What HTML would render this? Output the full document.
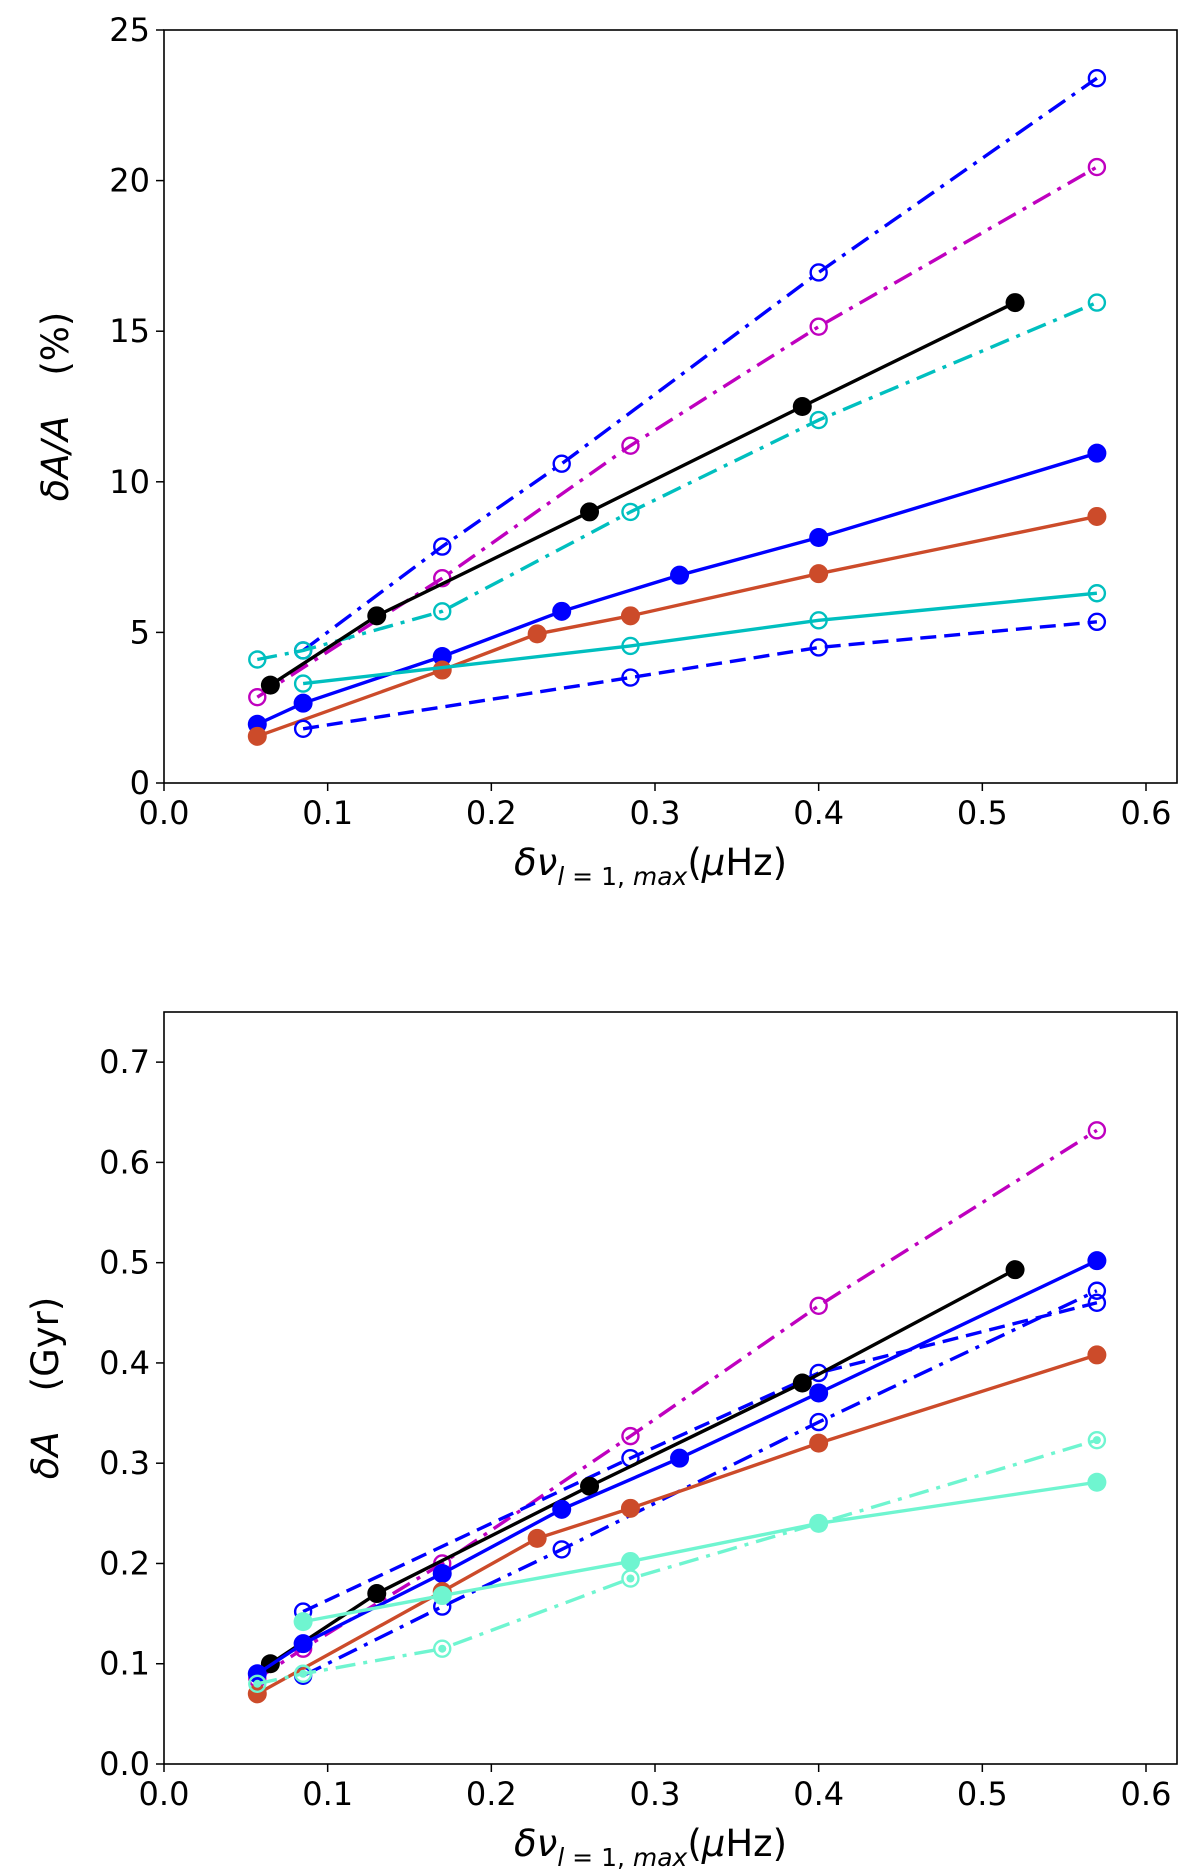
<!DOCTYPE html>
<html><head><meta charset="utf-8"><style>
html,body{margin:0;padding:0;background:#fff;}
svg text{font-family:"DejaVu Sans","Liberation Sans",sans-serif;}
</style></head><body>
<svg id="chart" width="1200" height="1871" viewBox="0 0 1200 1871" xmlns="http://www.w3.org/2000/svg"></svg>
<script>
// ---- top panel data ----
const topXTicks = [0.0,0.1,0.2,0.3,0.4,0.5,0.6];
const topYTicks = [0,5,10,15,20,25];
const t1x = [0.085,0.17,0.243,0.4,0.57];            const t1y = [4.4,7.85,10.6,16.95,23.4];
const t2x = [0.057,0.17,0.285,0.4,0.57];            const t2y = [2.85,6.8,11.2,15.15,20.45];
const t3x = [0.065,0.13,0.26,0.39,0.52];            const t3y = [3.25,5.55,9.0,12.5,15.95];
const t4x = [0.057,0.085,0.17,0.285,0.4,0.57];      const t4y = [4.1,4.4,5.7,9.0,12.05,15.95];
const t5x = [0.057,0.085,0.17,0.243,0.315,0.4,0.57];const t5y = [1.95,2.65,4.2,5.7,6.9,8.15,10.95];
const t6x = [0.057,0.17,0.228,0.285,0.4,0.57];      const t6y = [1.55,3.75,4.95,5.55,6.95,8.85];
const t7x = [0.085,0.285,0.4,0.57];                 const t7y = [3.3,4.55,5.4,6.3];
const t8x = [0.085,0.285,0.4,0.57];                 const t8y = [1.8,3.5,4.5,5.35];
// ---- bottom panel data ----
const botXTicks = [0.0,0.1,0.2,0.3,0.4,0.5,0.6];
const botYTicks = [0.0,0.1,0.2,0.3,0.4,0.5,0.6,0.7];
const b1x = [0.057,0.085,0.17,0.285,0.4,0.57];      const b1y = [0.085,0.115,0.2,0.327,0.457,0.632];
const b2x = [0.065,0.13,0.26,0.39,0.52];            const b2y = [0.1,0.17,0.277,0.38,0.493];
const b3x = [0.057,0.085,0.17,0.243,0.315,0.4,0.57];const b3y = [0.09,0.12,0.19,0.254,0.305,0.37,0.502];
const b4x = [0.085,0.285,0.4,0.57];                 const b4y = [0.152,0.305,0.39,0.46];
const b5x = [0.085,0.17,0.243,0.4,0.57];            const b5y = [0.088,0.157,0.214,0.341,0.472];
const b6x = [0.057,0.17,0.228,0.285,0.4,0.57];      const b6y = [0.07,0.172,0.225,0.255,0.32,0.408];
const b7x = [0.085,0.17,0.285,0.4,0.57];            const b7y = [0.142,0.168,0.202,0.24,0.281];
const b8x = [0.057,0.085,0.17,0.285,0.4,0.57];      const b8y = [0.08,0.09,0.115,0.185,0.24,0.323];

const NS="http://www.w3.org/2000/svg";
const svg=document.getElementById('chart');
function mk(tag,attrs,parent){const e=document.createElementNS(NS,tag);for(const k in attrs)e.setAttribute(k,attrs[k]);(parent||svg).appendChild(e);return e;}
const DD="20,8,4,8", DA="16,8";
const BLUE="#0000ff",MAG="#bf00bf",CYAN="#00bfbf",RED="#cc4b2a",AQUA="#6ff5d0";

function panel(cfg){
  const g=mk('g',{});
  
  
  const L=164,R=1177,T=cfg.top,B=cfg.bottom;
  const sx=v=>L+v/0.6*(1146-L);
  const sy=v=>B-(v-0)/cfg.ymax*(B-T);
  mk('rect',{x:L,y:T,width:R-L,height:B-T,fill:'none',stroke:'#000','stroke-width':1.6},g);
  cfg.xt.forEach(v=>{
    mk('line',{x1:sx(v),x2:sx(v),y1:B,y2:B+8,stroke:'#000','stroke-width':1.5},g);
    const t=mk('text',{x:sx(v),y:B+41,'text-anchor':'middle','font-size':32},g);t.textContent=v.toFixed(1);
    
    
  });
  cfg.yt.forEach(v=>{
    mk('line',{x1:L-8,x2:L,y1:sy(v),y2:sy(v),stroke:'#000','stroke-width':1.5},g);
    const t=mk('text',{x:L-14,y:sy(v)+11,'text-anchor':'end','font-size':32},g);t.textContent=cfg.fmt(v);
    
    
  });
  const xl=mk('text',{x:(L+R)/2-20,y:B+92,'text-anchor':'middle','font-size':37},g);
  xl.innerHTML='<tspan font-style="italic">δν</tspan><tspan font-size="25" font-style="italic" dy="10">l</tspan><tspan font-size="25" dy="0"> = 1, </tspan><tspan font-size="25" font-style="italic">max</tspan><tspan dy="-10">(</tspan><tspan font-style="italic">μ</tspan><tspan>Hz)</tspan>';
  
  
  const yl=mk('text',{x:0,y:0,'text-anchor':'middle','font-size':37,transform:`translate(${cfg.ylx},${(T+B)/2}) rotate(-90)`},g);
  yl.innerHTML=cfg.ylabel;
  
  
  cfg.series.forEach(s=>{
    const pts=s.x.map((v,i)=>sx(v)+','+sy(s.y[i])).join(' ');
    const pl=mk('polyline',{points:pts,fill:'none',stroke:s.c,'stroke-width':3.4,'stroke-dasharray':s.d||'none'},g);
    
    
    s.x.forEach((v,i)=>{
      const c=mk('circle',{cx:sx(v),cy:sy(s.y[i]),r:s.f?9.5:8,fill:s.f?s.c:'none',stroke:s.c,'stroke-width':s.f?0:2.4},g);
      
      
      if(s.dot){mk('circle',{cx:sx(v),cy:sy(s.y[i]),r:4,fill:s.c},g);}
    });
  });
}
panel({name:'top-panel',top:30,bottom:783,ymax:25,xt:topXTicks,yt:topYTicks,fmt:v=>String(v),ylx:68,
 ylabel:'<tspan font-style="italic">δA/A</tspan><tspan dx="40">(%)</tspan>',
 series:[
  {n:'blue-dashdot',x:t1x,y:t1y,c:BLUE,d:DD},
  {n:'magenta-dashdot',x:t2x,y:t2y,c:MAG,d:DD},
  {n:'cyan-dashdot',x:t4x,y:t4y,c:CYAN,d:DD},
  {n:'black-solid',x:t3x,y:t3y,c:'#000',f:1},
  {n:'blue-solid',x:t5x,y:t5y,c:BLUE,f:1},
  {n:'red-solid',x:t6x,y:t6y,c:RED,f:1},
  {n:'cyan-solid',x:t7x,y:t7y,c:CYAN},
  {n:'blue-dashed',x:t8x,y:t8y,c:BLUE,d:DA}
 ]});
panel({name:'bottom-panel',top:1012,bottom:1764,ymax:0.75,xt:botXTicks,yt:botYTicks,fmt:v=>v.toFixed(1),ylx:58,
 ylabel:'<tspan font-style="italic">δA</tspan><tspan dx="40">(Gyr)</tspan>',
 series:[
  {n:'magenta-dashdot',x:b1x,y:b1y,c:MAG,d:DD},
  {n:'blue-dashed',x:b4x,y:b4y,c:BLUE,d:DA},
  {n:'blue-dashdot',x:b5x,y:b5y,c:BLUE,d:DD},
  {n:'black-solid',x:b2x,y:b2y,c:'#000',f:1},
  {n:'blue-solid',x:b3x,y:b3y,c:BLUE,f:1},
  {n:'red-solid',x:b6x,y:b6y,c:RED,f:1},
  {n:'aqua-dashdot',x:b8x,y:b8y,c:AQUA,d:DD,dot:1},
  {n:'aqua-solid',x:b7x,y:b7y,c:AQUA,f:1}
 ]});
</script>
</body></html>
